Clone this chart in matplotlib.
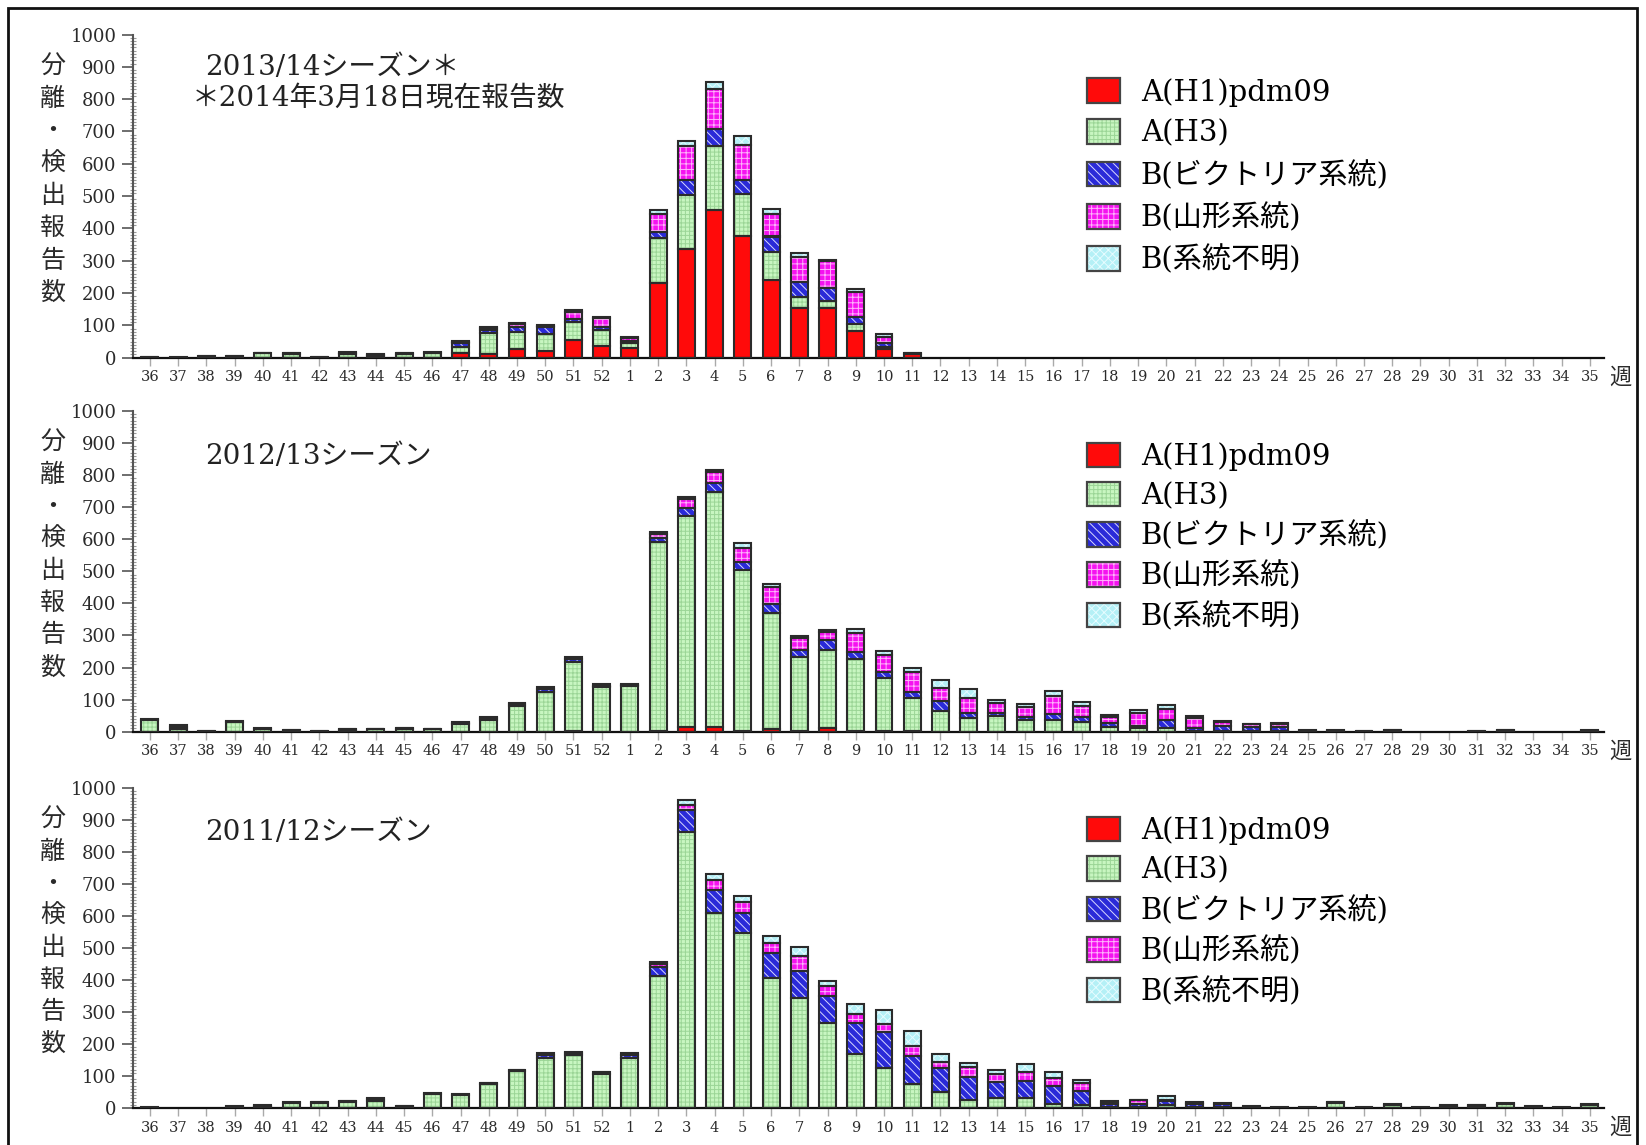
import numpy as np
import matplotlib
matplotlib.use("Agg")
import matplotlib.pyplot as plt
from matplotlib.patches import Patch, Rectangle
from matplotlib.legend_handler import HandlerTuple
from matplotlib.transforms import blended_transform_factory

# week numbers along the x axis (season runs from week 36 to week 35)
weeks = list(range(36, 53)) + list(range(1, 36))

series_names = ["A(H1)pdm09", "A(H3)", "B(ビクトリア系統)", "B(山形系統)", "B(系統不明)"]

# 2013/14 season
s1314_h1 = [0] * 11 + [16, 10, 27, 22, 55, 35, 30, 232, 337, 458, 378, 241, 153, 153, 84, 27, 12] + [0] * 24
s1314_h3 = [2, 2, 4, 4, 13, 11, 2, 10, 6, 12, 14,
            18, 65, 53, 50, 56, 52, 15, 138, 165, 196, 129, 85, 36, 21, 19, 7, 0] + [0] * 24
s1314_vic = [1, 0, 2, 2, 1, 2, 1, 5, 3, 2, 2,
             10, 10, 15, 22, 8, 8, 8, 20, 47, 55, 44, 49, 44, 41, 24, 10, 2] + [0] * 24
s1314_yam = [0, 0, 0, 0, 1, 1, 0, 2, 1, 1, 1,
             6, 8, 8, 5, 22, 27, 8, 55, 107, 121, 108, 70, 78, 83, 75, 21, 2] + [0] * 24
s1314_unk = [0] * 11 + [2, 3, 3, 2, 6, 5, 2, 13, 15, 22, 26, 16, 12, 5, 10, 8, 0] + [0] * 24

# 2012/13 season
s1213_h1 = [0] * 15 + [1, 0, 0, 3, 16, 14, 3, 8, 3, 10, 2, 2, 1] + [0] * 24
s1213_h3 = [38, 8, 1, 30, 9, 3, 1, 6, 7, 9, 7, 25, 38, 80, 125, 215, 138, 142,
            589, 657, 734, 501, 361, 231, 245, 224, 167, 103, 64, 44, 48, 36, 38, 31,
            15, 10, 12, 3, 2, 3, 3, 0, 2, 1, 3, 0, 0, 1, 2, 0, 0, 2]
s1213_vic = [2, 8, 2, 3, 1, 2, 2, 2, 1, 2, 1, 3, 4, 6, 8, 10, 6, 3,
             13, 23, 28, 26, 29, 21, 31, 23, 18, 21, 32, 13, 9, 9, 17, 16,
             12, 8, 25, 10, 15, 12, 13, 3, 2, 2, 2, 0, 0, 1, 2, 0, 0, 2]
s1213_yam = [0, 5, 0, 0, 0, 1, 0, 1, 1, 1, 1, 2, 3, 5, 7, 8, 4, 3,
             10, 29, 35, 42, 54, 36, 24, 58, 52, 62, 39, 49, 31, 31, 56, 33,
             18, 40, 35, 30, 12, 8, 8, 2, 0, 0, 1, 0, 0, 0, 1, 0, 0, 0]
s1213_unk = [0] * 18 + [7, 8, 5, 15, 7, 8, 7, 14, 14, 13, 26, 26, 11, 10, 16, 14,
                        7, 10, 10, 7, 5, 2, 2] + [0] * 11

# 2011/12 season
s1112_h1 = [0] * 52
s1112_h3 = [1, 0, 0, 2, 3, 17, 16, 19, 22, 3, 44, 42, 74, 115, 155, 165, 106, 157,
            411, 863, 610, 546, 406, 344, 267, 168, 124, 75, 49, 26, 31, 31, 12, 10,
            2, 2, 10, 2, 2, 1, 1, 1, 15, 1, 10, 1, 4, 5, 14, 2, 1, 10]
s1112_vic = [2, 0, 0, 3, 4, 2, 2, 3, 6, 3, 3, 2, 3, 3, 10, 7, 5, 9,
             30, 68, 71, 64, 78, 85, 83, 99, 112, 88, 75, 72, 49, 54, 57, 42,
             12, 10, 12, 10, 9, 3, 2, 2, 3, 3, 2, 2, 3, 3, 3, 3, 2, 3]
s1112_yam = [0, 0, 0, 0, 1, 0, 1, 1, 3, 1, 0, 0, 1, 1, 6, 4, 3, 5,
             10, 17, 33, 33, 33, 47, 31, 28, 28, 30, 21, 29, 26, 26, 24, 26,
             5, 12, 4, 4, 3, 1, 0, 0, 2, 0, 0, 0, 1, 1, 0, 0, 0, 0]
s1112_unk = [0] * 18 + [4, 14, 17, 19, 19, 26, 17, 31, 41, 47, 24, 15, 13, 27, 18, 10,
                        2, 2, 10, 2, 1] + [0] * 13

# face colour, hatch colour, hatch pattern for each virus type
styles = [
    ("#ff0a0a", "#ff0a0a", None),
    ("#c8f6c1", "#9bd596", "++++"),
    ("#2a2ad8", "#d8d8ff", "\\\\\\\\"),
    ("#f512f0", "#ffb4fb", "+++"),
    ("#b4f0f6", "#e6fcff", "xxxx"),
]
outline = "#2b2b2b"

serif_jp = ["DejaVu Serif", "Noto Sans CJK JP"]
plt.rcParams["hatch.linewidth"] = 0.7

W, H = 1646, 1145
ax_left, ax_right = 133, 1604


def px_axes(zero_y, top_y):
    return [ax_left / W, 1 - zero_y / H, (ax_right - ax_left) / W, (zero_y - top_y) / H]


def draw_season(fig, rect, data, title, note, title_y, legend_y, legend_gap):
    ax = fig.add_axes(rect)
    x = np.arange(len(weeks))
    bottom = np.zeros(len(weeks))
    handles = []
    for values, (face, hcol, hatch) in zip(data, styles):
        v = np.array(values, dtype=float)
        m = v > 0
        ax.bar(x[m], v[m], 0.6, bottom=bottom[m], color=face, edgecolor=hcol,
               hatch=hatch, linewidth=0, zorder=2)
        ax.bar(x[m], v[m], 0.6, bottom=bottom[m], fill=False, edgecolor=outline,
               linewidth=1.5, zorder=3)
        bottom += v
        handles.append((Patch(facecolor=face, edgecolor=hcol, hatch=hatch, linewidth=0),
                        Patch(fill=False, edgecolor="#444444", linewidth=1.6)))

    ax.set_xlim(-0.6, len(weeks) - 0.5)
    ax.set_ylim(0, 1000)
    ax.set_xticks(x, [str(w) for w in weeks])
    ax.set_yticks(np.arange(0, 1001, 100))
    ax.set_yticks(np.arange(0, 1001, 10), minor=True)
    for s in ["top", "right"]:
        ax.spines[s].set_visible(False)
    ax.spines["left"].set_color("#555555")
    ax.spines["left"].set_linewidth(1.5)
    ax.spines["bottom"].set_color("#111111")
    ax.spines["bottom"].set_linewidth(1.6)
    ax.tick_params(axis="x", length=6, width=1, color="#aaaaaa", labelsize=10.5,
                   labelcolor="#2a2a2a", pad=3)
    ax.tick_params(axis="y", which="major", length=8, width=1.2, color="#555555",
                   labelsize=13, labelcolor="#2a2a2a", pad=4)
    ax.tick_params(axis="y", which="minor", direction="inout", length=5, width=0.8,
                   color="#999999")
    for lab in ax.get_xticklabels() + ax.get_yticklabels():
        lab.set_family("DejaVu Serif")

    # vertical axis caption, one character per hundred
    tr = blended_transform_factory(ax.transAxes, ax.transData)
    for ch, yv in zip("分離・検出報告数", range(900, 100, -100)):
        ax.text(-0.0547, yv, ch, transform=tr, ha="center", va="center",
                fontsize=18, family="Noto Sans CJK JP", color="#2a2a2a")

    ax.text(0.049, title_y, title, transform=tr, va="center", fontsize=20,
            family=serif_jp, color="#222222")
    if note:
        ax.text(0.040, title_y - 95, note, transform=tr, va="center", fontsize=20,
                family=serif_jp, color="#222222")

    ax.text(1.011, -0.06, "週", transform=ax.transAxes, ha="center", va="center",
            fontsize=16, family="Noto Sans CJK JP", color="#2a2a2a")

    ax.legend(handles, series_names, handler_map={tuple: HandlerTuple(ndivide=1)},
              loc="upper left", bbox_to_anchor=(0.6485, legend_y), frameon=False,
              borderpad=0, borderaxespad=0, handlelength=1.13, handleheight=0.92,
              labelspacing=legend_gap, handletextpad=0.72,
              prop={"family": serif_jp, "size": 21})
    return ax


fig = plt.figure(figsize=(W / 100, H / 100), dpi=100)

draw_season(fig, px_axes(357.7, 34.5),
            [s1314_h1, s1314_h3, s1314_vic, s1314_yam, s1314_unk],
            "2013/14シーズン＊", "＊2014年3月18日現在報告数", 897, 0.866, 0.44)
draw_season(fig, px_axes(731.7, 411),
            [s1213_h1, s1213_h3, s1213_vic, s1213_yam, s1213_unk],
            "2012/13シーズン", None, 857, 0.903, 0.37)
draw_season(fig, px_axes(1108, 788),
            [s1112_h1, s1112_h3, s1112_vic, s1112_yam, s1112_unk],
            "2011/12シーズン", None, 862, 0.912, 0.38)

# outer frame round the whole chart
fig.add_artist(Rectangle((8 / W, -0.02), (1637 - 8) / W, 1.02 - 8 / H,
                         transform=fig.transFigure, fill=False,
                         edgecolor="#111111", linewidth=2))

fig.savefig("out.png", dpi=100)
